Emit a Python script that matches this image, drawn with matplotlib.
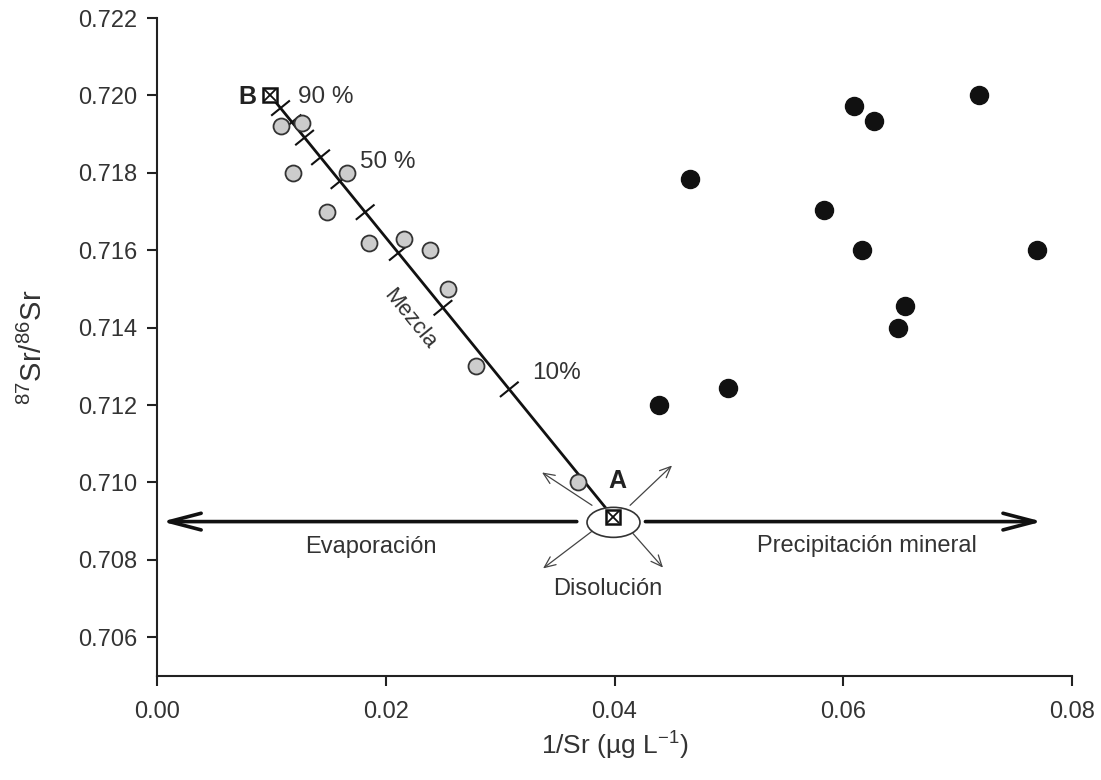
import numpy as np
import matplotlib
matplotlib.use("Agg")
import matplotlib.pyplot as plt
from matplotlib.patches import Ellipse

plt.rcParams['font.family'] = ['Liberation Sans', 'DejaVu Sans']
plt.rcParams['mathtext.fontset'] = 'custom'
plt.rcParams['mathtext.rm'] = 'Liberation Sans'
plt.rcParams['mathtext.it'] = 'Liberation Sans:italic'
plt.rcParams['mathtext.bf'] = 'Liberation Sans:bold'

# ---- data ----
gray_x = [0.0108, 0.0127, 0.0119, 0.0166, 0.0149, 0.0185, 0.0216, 0.0239, 0.0254, 0.0279, 0.0368]
gray_y = [0.7192, 0.71928, 0.7180, 0.7180, 0.7170, 0.7162, 0.7163, 0.7160, 0.7150, 0.7130, 0.7100]

black_x = [0.0719, 0.0609, 0.0627, 0.0466, 0.0583, 0.0616, 0.0769, 0.0654, 0.0648, 0.0499, 0.0439]
black_y = [0.7200, 0.71972, 0.71935, 0.71783, 0.71703, 0.7160, 0.7160, 0.71455, 0.7140, 0.71245, 0.7120]

end_B = (0.0099, 0.7200)
end_A = (0.0399, 0.7091)
mix_tick_x = [0.0308, 0.0250, 0.0211, 0.0182, 0.0160, 0.0143, 0.0129, 0.0118, 0.0108]

xticks = [0.00, 0.02, 0.04, 0.06, 0.08]
yticks = [0.706, 0.708, 0.710, 0.712, 0.714, 0.716, 0.718, 0.720, 0.722]

txt = '#333333'

fig = plt.figure(figsize=(11.01, 7.80), dpi=100)
ax = fig.add_axes([0.1426, 0.1333, 0.8311, 0.8436])
ax.set_xlim(0, 0.08)
ax.set_ylim(0.705, 0.722)
ax.set_xticks(xticks)
ax.set_yticks(yticks)
ax.set_xticklabels([f'{v:.2f}' for v in xticks])
ax.set_yticklabels([f'{v:.3f}' for v in yticks])
for s in ['top', 'right']:
    ax.spines[s].set_visible(False)
for s in ['left', 'bottom']:
    ax.spines[s].set_linewidth(1.5)
    ax.spines[s].set_color('#222222')
ax.tick_params(direction='out', length=7, width=1.5, labelsize=17, colors='#222222', labelcolor=txt)
ax.tick_params(axis='x', pad=11)
ax.tick_params(axis='y', pad=7)

ax.set_xlabel(r'1/Sr (µg L$^{-1}$)', fontsize=19, color=txt, labelpad=5)
ax.set_ylabel(r'$^{87}$Sr/$^{86}$Sr', fontsize=21, color=txt, labelpad=22)

# mixing line
ax.plot([end_B[0], end_A[0]], [end_B[1], end_A[1]], color='#111111', lw=2.0, zorder=3)

# tick marks on the mixing line (perpendicular, in display space)
fig.canvas.draw()
T = ax.transData
pA = T.transform(end_A)
pB = T.transform(end_B)
d = (pB - pA) / np.linalg.norm(pB - pA)
perp = np.array([-d[1], d[0]])
if perp[0] < 0:
    perp = -perp
half = 11 * fig.dpi / 100
for tx in mix_tick_x:
    t = (tx - end_A[0]) / (end_B[0] - end_A[0])
    ty = end_A[1] + t * (end_B[1] - end_A[1])
    p = T.transform((tx, ty))
    q = T.inverted().transform(np.array([p - perp * half, p + perp * half]))
    ax.plot(q[:, 0], q[:, 1], color='#111111', lw=1.5, zorder=3)

# horizontal arrows
harrow = dict(arrowstyle='->,head_length=2.3,head_width=0.6', lw=2.6, color='#111111',
              shrinkA=0, shrinkB=0)
ax.annotate('', xy=(0.00044, 0.70899), xytext=(0.0367, 0.70899), arrowprops=harrow)
ax.annotate('', xy=(0.07738, 0.70899), xytext=(0.0427, 0.70899), arrowprops=harrow)

# diagonal thin arrows around A
diag = [((0.03803, 0.70941), (0.03366, 0.71026)),
        ((0.04136, 0.70941), (0.04503, 0.71044)),
        ((0.03812, 0.70876), (0.03375, 0.70778)),
        ((0.04162, 0.70868), (0.04424, 0.70780))]
for (x0, y0), (x1, y1) in diag:
    ax.annotate('', xy=(x1, y1), xytext=(x0, y0),
                arrowprops=dict(arrowstyle='->,head_length=0.8,head_width=0.35', lw=0.9,
                                color='#444444', shrinkA=0, shrinkB=0),
                zorder=2)

ell = Ellipse((0.03991, 0.70897), width=0.00463, height=0.000775, facecolor='white',
              edgecolor='#333333', lw=1.2, zorder=4)
ax.add_patch(ell)

# points
ax.plot(gray_x, gray_y, 'o', ms=11.5, mfc='#cccccc', mec='#333333', mew=1.3, ls='none', zorder=5)
ax.plot(black_x, black_y, 'o', ms=13, mfc='#111111', mec='#111111', ls='none', zorder=5)

# end members
for (ex, ey) in [end_A, end_B]:
    ax.plot(ex, ey, 's', ms=10.5, mfc='white', mec='#111111', mew=1.8, zorder=6)
    ax.plot(ex, ey, 'x', ms=9, mec='#111111', mew=1.3, zorder=7)

# labels
ax.text(0.00787, 0.71997, 'B', fontsize=18, fontweight='bold', color='#222222', ha='center', va='center')
ax.text(0.04022, 0.71003, 'A', fontsize=18, fontweight='bold', color='#222222', ha='center', va='center')
ax.text(0.01233, 0.71995, '90 %', fontsize=17.5, color=txt, ha='left', va='center')
ax.text(0.01775, 0.71829, '50 %', fontsize=17.5, color=txt, ha='left', va='center')
ax.text(0.03279, 0.71282, '10%', fontsize=17.5, color=txt, ha='left', va='center')
ax.text(0.02212, 0.71421, 'Mezcla', fontsize=16, color=txt, ha='center', va='center', rotation=-51)
ax.text(0.01871, 0.70833, 'Evaporación', fontsize=17, color=txt, ha='center', va='center')
ax.text(0.06208, 0.70837, 'Precipitación mineral', fontsize=17, color=txt, ha='center', va='center')
ax.text(0.03943, 0.70724, 'Disolución', fontsize=17, color=txt, ha='center', va='center')

fig.savefig('out.png', dpi=100)
